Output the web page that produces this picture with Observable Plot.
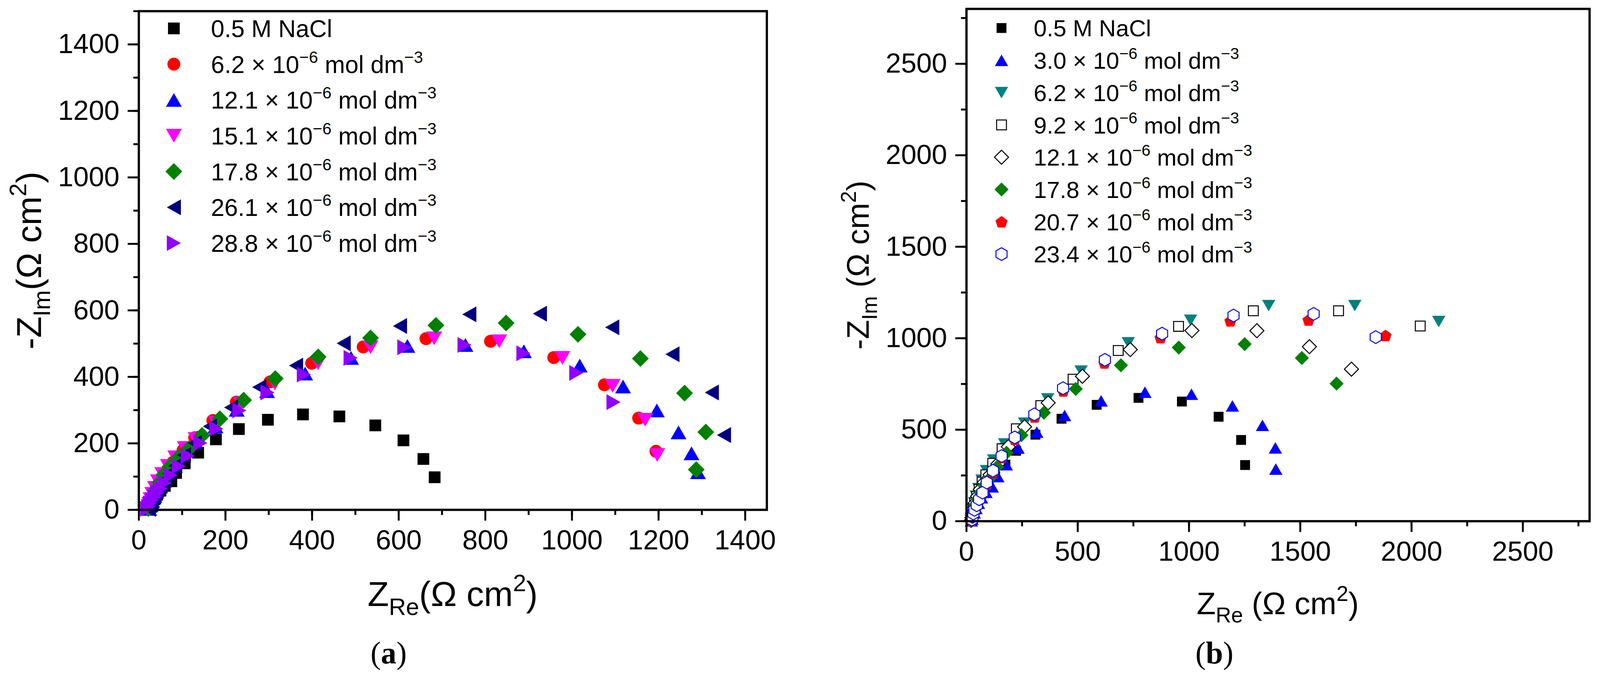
<!DOCTYPE html>
<html><head><meta charset="utf-8">
<script src="https://cdn.jsdelivr.net/npm/d3@7"></script>
<script src="https://cdn.jsdelivr.net/npm/@observablehq/plot@0.6"></script>
<style>
html,body{margin:0;padding:0;background:#fff;overflow:hidden;}
#root{position:absolute;left:0;top:0;width:4224px;height:1785px;overflow:hidden;background:#fff;transform-origin:0 0;}
#root svg.panel{position:absolute;top:0;}
</style></head><body><div id="root"></div>
<script>
// ---------- Panel (a) data: [Z_Re, -Z_Im] in Ω cm² ----------
const a_NaCl = [[24,2],[27,10],[31,20],[36,32],[42,45],[50,58],[60,72],[75,86],[86,111],[106,140],[137,172],[178,212],[231,243],[298,271],[379,287],[463,281],[546,254],[611,209],[657,153],[683,98]];
const a_6_2 = [[22,4],[25,16],[29,30],[34,46],[40,64],[48,88],[62,113],[79,143],[102,179],[129,217],[171,269],[225,324],[303,385],[399,441],[518,490],[663,515],[812,507],[958,458],[1075,376],[1154,276],[1194,176]];
const a_12_1 = [[24,3],[27,14],[31,27],[36,42],[42,60],[50,82],[60,106],[72,130],[88,156],[108,186],[135,218],[177,251],[226,301],[296,357],[384,410],[490,457],[620,493],[754,496],[889,477],[1018,434],[1118,371],[1196,299],[1246,233],[1276,170],[1291,113]];
const a_15_1 = [[21,5],[24,18],[27,32],[31,48],[37,66],[44,86],[54,108],[67,132],[84,158],[106,186],[131,213],[178,262],[236,319],[314,380],[414,441],[535,489],[682,516],[832,507],[978,457],[1094,373],[1169,271],[1197,165]];
const a_17_8 = [[22,4],[25,15],[29,28],[34,43],[40,60],[48,82],[58,106],[72,130],[92,158],[115,183],[146,224],[187,274],[242,330],[315,395],[414,460],[535,517],[686,555],[848,562],[1014,528],[1158,455],[1260,351],[1309,234],[1287,121]];
const a_26_1 = [[23,3],[26,14],[30,26],[35,40],[41,56],[50,72],[60,90],[70,109],[84,133],[104,165],[129,201],[164,251],[213,308],[278,369],[363,434],[473,501],[603,553],[763,588],[926,590],[1093,549],[1232,468],[1323,353],[1351,225]];
const a_28_8 = [[19,3],[22,10],[26,20],[31,30],[37,40],[43,52],[50,64],[59,81],[73,104],[92,131],[113,162],[142,201],[179,244],[232,299],[297,353],[381,407],[489,457],[613,489],[752,496],[888,471],[1010,412],[1096,324]];

// ---------- Panel (b) data ----------
const b_NaCl = [[22,3],[25,15],[29,32],[34,52],[41,76],[50,104],[62,136],[78,172],[100,210],[129,245],[175,309],[223,385],[310,473],[427,560],[585,636],[773,674],[968,654],[1133,571],[1234,444],[1252,307]];
const b_3_0 = [[22,2],[25,12],[29,26],[35,46],[43,70],[54,98],[68,128],[88,158],[116,188],[141,244],[179,309],[232,400],[316,487],[441,578],[605,658],[802,705],[1011,694],[1195,630],[1330,524],[1388,401],[1390,285]];
const b_6_2 = [[21,4],[23,20],[26,42],[30,68],[36,100],[44,136],[55,178],[70,224],[90,276],[122,334],[171,422],[261,536],[365,668],[515,820],[727,975],[1007,1098],[1358,1178],[1745,1178],[2122,1091]];
const b_9_2 = [[21,4],[23,20],[26,42],[31,68],[37,100],[46,136],[57,174],[70,214],[87,254],[118,316],[160,396],[224,505],[334,632],[479,776],[682,933],[953,1065],[1289,1150],[1672,1150],[2039,1067]];
const b_12_1 = [[21,4],[24,20],[28,42],[33,68],[40,100],[50,136],[62,174],[80,212],[106,254],[141,313],[188,407],[261,516],[367,647],[521,792],[736,938],[1013,1042],[1305,1041],[1541,954],[1730,831]];
const b_17_8 = [[21,3],[24,17],[28,36],[33,60],[40,88],[50,120],[62,156],[80,196],[106,236],[138,298],[180,374],[247,470],[348,593],[491,723],[694,852],[954,949],[1250,968],[1507,892],[1663,752]];
const b_20_7 = [[24,5],[27,20],[31,38],[36,58],[46,82],[57,114],[72,150],[91,204],[119,268],[158,348],[217,448],[306,570],[435,712],[620,865],[872,1003],[1186,1095],[1537,1100],[1883,1015]];
const b_23_4 = [[24,8],[27,24],[31,42],[36,62],[46,87],[57,120],[72,156],[91,211],[119,276],[158,356],[217,458],[305,584],[434,727],[622,882],[879,1025],[1200,1124],[1560,1133],[1839,1006]];

// ---------- series labels & styles ----------
const concA = [null, "6.2", "12.1", "15.1", "17.8", "26.1", "28.8"];
const dataA = [a_NaCl, a_6_2, a_12_1, a_15_1, a_17_8, a_26_1, a_28_8];
const symA = ["square", "circle", "up", "down", "diamond", "left", "right"];
const fillA = ["#000000", "#ff0000", "#0000ff", "#ff00ff", "#008000", "#000080", "#8f00ff"];
const strokeA = ["none", "none", "none", "none", "none", "none", "none"];

const concB = [null, "3.0", "6.2", "9.2", "12.1", "17.8", "20.7", "23.4"];
const dataB = [b_NaCl, b_3_0, b_6_2, b_9_2, b_12_1, b_17_8, b_20_7, b_23_4];
const symB = ["square", "up", "down", "square", "diamond", "diamond", "pentagon", "hexagon"];
const fillB = ["#000000", "#0000ff", "#008080", "#ffffff", "#ffffff", "#008000", "#ff0000", "#ffffff"];
const strokeB = ["none", "none", "none", "#000000", "#000000", "none", "none", "#0000ff"];

// ticks
const aXMinor = d3.range(0, 1451, 100), aXMajor = d3.range(0, 1401, 200);
const aYMinor = d3.range(0, 1501, 100), aYMajor = d3.range(0, 1401, 200);
const bXMinor = d3.range(0, 2801, 250), bXMajor = d3.range(0, 2501, 500);
const bYMinor = d3.range(0, 2801, 250), bYMajor = d3.range(0, 2501, 500);

const FONT = "'Liberation Sans', Arial, sans-serif";
const fmt = d => String(d);

// ---------- symbols ----------
function poly(pts) {
  return {draw(ctx, size) {
    const r = Math.sqrt(size / Math.PI);
    pts.forEach(([px, py], i) => i ? ctx.lineTo(px * r, py * r) : ctx.moveTo(px * r, py * r));
    ctx.closePath();
  }};
}
const SYM = {
  square: poly([[-1,-1],[1,-1],[1,1],[-1,1]]),
  circle: {draw(ctx, size) { const r = Math.sqrt(size / Math.PI) * 1.1; ctx.moveTo(r, 0); ctx.arc(0, 0, r, 0, 2 * Math.PI); ctx.closePath(); }},
  up: poly([[0,-1.17],[1.35,1.17],[-1.35,1.17]]),
  down: poly([[0,1.17],[1.35,-1.17],[-1.35,-1.17]]),
  left: poly([[-1.2,0],[1.2,-1.35],[1.2,1.35]]),
  right: poly([[1.2,0],[-1.2,-1.35],[-1.2,1.35]]),
  diamond: poly([[0,-1.43],[1.43,0],[0,1.43],[-1.43,0]]),
  pentagon: poly(d3.range(5).map(k => [1.3 * Math.sin(2 * Math.PI * k / 5), -1.3 * Math.cos(2 * Math.PI * k / 5) + 0.12])),
  hexagon: poly(d3.range(6).map(k => [1.3 * Math.sin(2 * Math.PI * k / 6), -1.3 * Math.cos(2 * Math.PI * k / 6)]))
};

function rich(g, x, y, parts, fs, opts = {}) {
  const t = g.append("text").attr("x", x).attr("y", y)
    .attr("font-size", fs).attr("font-family", opts.family || FONT).attr("fill", "#000")
    .attr("text-anchor", opts.anchor || "start");
  if (opts.rotate) t.attr("transform", `rotate(-90 ${x} ${y})`);
  let off = 0;
  for (const p of parts) {
    const target = p.sup ? -0.42 * fs : p.sub ? 0.26 * fs : 0;
    const ts = t.append("tspan").attr("dy", target - off).text(p.t);
    if (p.sup || p.sub) ts.attr("font-size", fs * 0.68);
    if (p.bold) ts.attr("font-weight", "bold");
    off = target;
  }
  return t;
}

function legendParts(c) {
  if (c === null) return [{t: "0.5 M NaCl"}];
  return [{t: c + " × 10"}, {t: "−6", sup: true}, {t: " mol dm"}, {t: "−3", sup: true}];
}

function panel(cfg) {
  const marks = [];
  cfg.data.forEach((d, i) => {
    marks.push(Plot.dot(d, {
      x: p => p[0], y: p => p[1], r: cfg.r, symbol: SYM[cfg.sym[i]],
      fill: cfg.fill[i], stroke: cfg.stroke[i], strokeWidth: cfg.stroke[i] === "none" ? 0 : 2.6
    }));
  });
  marks.push(Plot.axisX(cfg.xMinor, {tickSize: 14, strokeWidth: 5, fill: "none"}));
  marks.push(Plot.axisX(cfg.xMajor, {tickSize: 29, tickPadding: 24, strokeWidth: 5, fontSize: 73, tickFormat: fmt}));
  marks.push(Plot.axisY(cfg.yMinor, {tickSize: 14, strokeWidth: 5, fill: "none"}));
  marks.push(Plot.axisY(cfg.yMajor, {tickSize: 29, tickPadding: 22, strokeWidth: 5, fontSize: 73, tickFormat: fmt}));
  marks.push(Plot.frame({stroke: "#000", strokeWidth: 6}));
  const svg = Plot.plot({
    width: 2112, height: 1785,
    marginLeft: cfg.ml, marginRight: cfg.mr, marginTop: cfg.mt, marginBottom: cfg.mb,
    x: {domain: cfg.xDomain, label: null},
    y: {domain: cfg.yDomain, label: null},
    style: {fontFamily: FONT, fontSize: "73px", background: "white", color: "#000", overflow: "visible"},
    marks
  });
  svg.classList.add("panel");
  svg.style.left = cfg.left + "px";
  svg.style.maxWidth = "none";
  const g = d3.select(svg).append("g");
  // legend
  cfg.data.forEach((d, i) => {
    const cy = cfg.legY0 + i * cfg.legDy;
    const p = d3.path();
    SYM[cfg.sym[i]].draw(p, Math.PI * cfg.legR * cfg.legR);
    g.append("path").attr("d", p.toString()).attr("transform", `translate(${cfg.legX},${cy})`)
      .attr("fill", cfg.fill[i]).attr("stroke", cfg.stroke[i]).attr("stroke-width", cfg.stroke[i] === "none" ? 0 : 2.6);
    rich(g, cfg.legTX, cy + cfg.legFs * 0.36, legendParts(cfg.conc[i]), cfg.legFs);
  });
  // axis titles
  rich(g, cfg.xtX, cfg.xtY, cfg.xTitle, cfg.titleFs, {anchor: "middle"});
  rich(g, cfg.ytX, cfg.ytY, cfg.yTitle, cfg.titleFs, {anchor: "middle", rotate: true});
  // panel letter
  rich(g, cfg.letX, 1752, [{t: "("}, {t: cfg.letter, bold: true}, {t: ")"}], 82, {anchor: "middle", family: "'Liberation Serif', 'Times New Roman', serif"});
  return svg;
}

const root = document.getElementById("root");
root.appendChild(panel({
  left: 0, data: dataA, sym: symA, fill: fillA, stroke: strokeA, conc: concA, r: 15.5,
  xDomain: [0, 1450], yDomain: [0, 1500],
  xMinor: aXMinor, xMajor: aXMajor, yMinor: aYMinor, yMajor: aYMajor,
  ml: 366, mr: 88, mt: 29, mb: 439,
  legX: 459, legY0: 75, legDy: 94.5, legR: 15.5, legTX: 557, legFs: 64,
  titleFs: 92,
  xTitle: [{t: "Z"}, {t: "Re", sub: true}, {t: "(Ω cm"}, {t: "2", sup: true}, {t: ")"}],
  yTitle: [{t: "-Z"}, {t: "Im", sub: true}, {t: "(Ω cm"}, {t: "2", sup: true}, {t: ")"}],
  xtX: 1195, xtY: 1600, ytX: 108, ytY: 688,
  letX: 1026, letter: "a"
}));
root.appendChild(panel({
  left: 2112, data: dataB, sym: symB, fill: fillB, stroke: strokeB, conc: concB, r: 13,
  xDomain: [0, 2800], yDomain: [0, 2800],
  xMinor: bXMinor, xMajor: bXMajor, yMinor: bYMinor, yMajor: bYMajor,
  ml: 439, mr: 28, mt: 23, mb: 409,
  legX: 532, legY0: 74, legDy: 85.3, legR: 13, legTX: 617, legFs: 62,
  titleFs: 83,
  xTitle: [{t: "Z"}, {t: "Re", sub: true}, {t: " (Ω cm"}, {t: "2", sup: true}, {t: ")"}],
  yTitle: [{t: "-Z"}, {t: "Im", sub: true}, {t: " (Ω cm"}, {t: "2", sup: true}, {t: ")"}],
  xtX: 1261, xtY: 1622, ytX: 182, ytY: 700,
  letX: 1094, letter: "b"
}));

// fit the 4224×1785 design to the actual viewport
function fit() {
  const s = Math.min(window.innerWidth / 4224, window.innerHeight / 1785);
  root.style.transform = `scale(${s})`;
}
fit();
window.addEventListener("resize", fit);
</script></body></html>
